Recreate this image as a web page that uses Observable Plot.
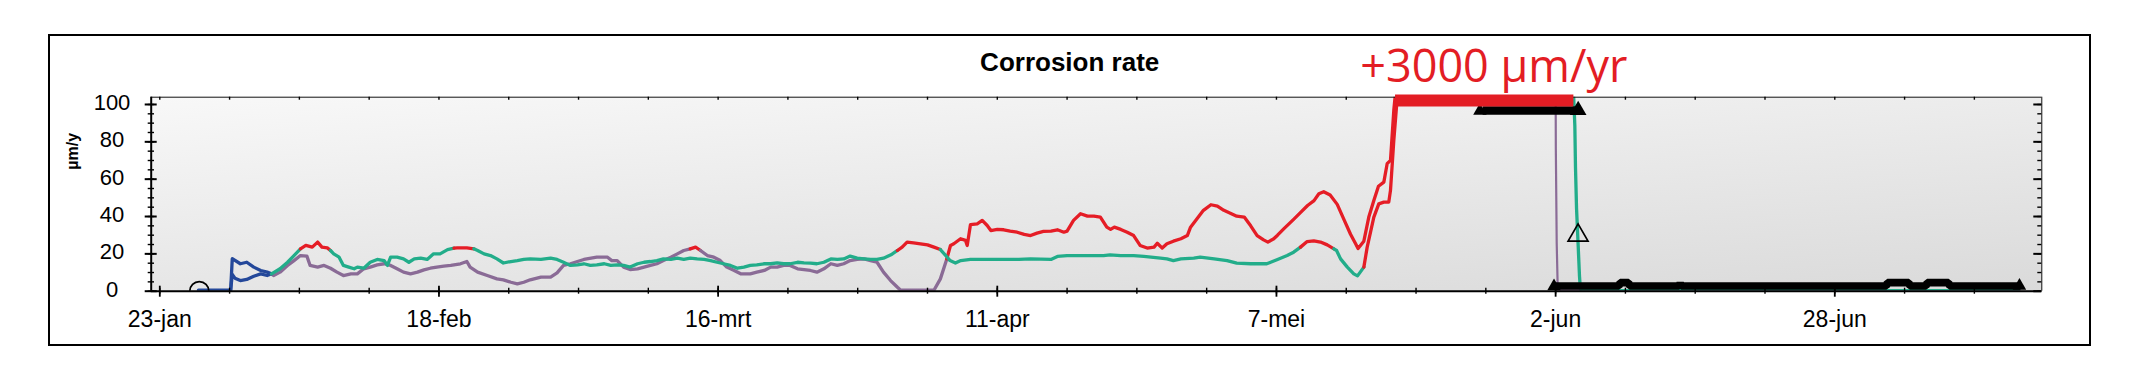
<!DOCTYPE html>
<html>
<head>
<meta charset="utf-8">
<script src="https://cdn.jsdelivr.net/npm/d3@7"></script>
<script src="https://cdn.jsdelivr.net/npm/@observablehq/plot@0.6"></script>
<style>
html, body { margin: 0; padding: 0; background: #fff; }
#wrap { position: relative; width: 2130px; height: 377px; overflow: hidden; }
#box { position: absolute; left: 48px; top: 34px; width: 2043px; height: 311.5px; box-sizing: border-box; border: 2px solid #000; }
#chart { position: absolute; left: 0; top: 0; }
</style>
</head>
<body>
<div id="wrap"><div id="box"></div><div id="chart"></div></div>
<script>
// ---------- data (x = day of year, 2019; y = corrosion rate µm/y) ----------
const YEAR = 2019;
const xTickDays   = [23, 49, 75, 101, 127, 153, 179];
const xTickLabels = ["23-jan", "18-feb", "16-mrt", "11-apr", "7-mei", "2-jun", "28-jun"];
const yTicks = [0, 20, 40, 60, 80, 100];
const title = "Corrosion rate";
const yLabel = "µm/y";

// probe A (green, red when in alarm, blue during start-up)
const aDay = [
  26.6, 29.6, 29.75, 30.5, 31.1, 31.75, 32.4, 33.0, 33.4, 34.2,
  34.9, 35.5, 36.1, 36.6, 37.2, 37.7, 38.1, 38.6, 38.9, 39.2,
  39.7, 40.1, 40.6, 41.1, 41.4, 42.0, 42.6, 43.25, 43.9, 44.2,
  44.5, 45.1, 45.7, 46.2, 46.7, 47.3, 47.9, 48.5, 49.1, 49.8,
  50.4, 50.7, 51.6, 52.25, 52.6, 53.2, 53.8, 54.4, 55.0, 55.7,
  56.3, 56.9, 57.5, 58.5, 59.4, 60.0, 60.6, 61.25, 61.9, 62.5,
  63.1, 63.7, 64.4, 65.0, 65.6, 66.2, 66.8, 67.5, 68.1, 68.7,
  69.3, 69.9, 70.6, 71.2, 71.8, 72.4, 73.05, 73.7, 74.3, 74.9,
  75.5, 76.15, 76.8, 77.4, 78.0, 78.6, 79.3, 79.9, 80.5, 81.1,
  81.7, 82.4, 83.0, 83.6, 84.2, 84.85, 85.5, 86.1, 86.7, 87.3,
  87.95, 88.6, 89.2, 89.8, 90.4, 91.1, 91.7, 92.14, 92.6, 93.2,
  93.85, 94.5, 95.1, 95.7, 96.2, 96.6, 97.1, 97.6, 98.5, 99.5,
  100.5, 101.5, 103.0, 104.1, 106.0, 106.6, 107.5, 108.4, 110.0, 110.9,
  111.5, 112.5, 113.7, 114.65, 116.2, 116.8, 117.4, 118.1, 119.3, 119.9,
  121.2, 122.4, 123.3, 124.6, 126.1, 127.1, 128.0, 128.6, 129.24, 129.86,
  130.48, 131.1, 131.73, 132.35, 132.6, 132.97, 133.6, 134.2, 134.55, 135.14,
  135.45, 136.07, 136.53, 137.0, 137.46, 137.62, 137.93, 138.18, 138.3, 154.6,
  154.69, 154.79, 154.85, 154.95, 155.1, 155.22, 155.31
];
const aVal = [
  0.6, 0.6, 17.4, 14.7, 15.5, 12.9, 11.1, 10.2, 9.3, 12.0,
  15.5, 19.1, 22.7, 24.5, 23.6, 26.3, 23.6, 23.2, 21.8, 20.0,
  18.2, 13.8, 12.9, 12.0, 12.9, 12.3, 15.5, 17.0, 16.4, 13.8,
  18.2, 18.2, 17.3, 15.5, 17.3, 17.7, 17.0, 20.0, 20.0, 22.3,
  23.1, 23.2, 23.2, 22.7, 21.8, 20.0, 19.1, 17.3, 15.1, 15.9,
  16.4, 17.0, 17.3, 17.0, 17.7, 17.0, 15.5, 13.8, 14.1, 14.7,
  13.8, 14.1, 14.7, 13.8, 14.1, 13.8, 12.9, 14.7, 15.5, 15.9,
  16.4, 17.3, 17.0, 17.7, 17.0, 17.7, 17.3, 17.0, 16.4, 15.5,
  14.7, 13.8, 12.3, 12.9, 13.8, 14.1, 14.7, 14.7, 15.2, 14.7,
  14.7, 15.5, 15.2, 15.0, 14.7, 15.5, 17.3, 17.0, 17.3, 18.8,
  17.7, 17.3, 17.0, 17.0, 17.7, 19.5, 21.8, 23.6, 26.3, 25.9,
  25.4, 24.8, 23.6, 22.3, 19.1, 16.4, 15.1, 16.4, 17.0, 17.0,
  17.0, 17.0, 17.0, 17.3, 17.0, 18.6, 19.1, 19.1, 19.1, 19.1,
  19.5, 19.1, 19.1, 18.6, 17.7, 17.3, 16.4, 17.3, 17.7, 18.2,
  17.3, 16.4, 15.0, 14.7, 14.7, 17.0, 19.1, 20.9, 23.6, 26.6,
  27.0, 26.3, 24.8, 22.7, 21.8, 17.3, 12.9, 9.3, 8.2, 12.9,
  23.6, 39.7, 46.8, 47.7, 47.7, 54.0, 80.8, 98.7, 110, 110,
  103, 88.7, 66.4, 44.1, 24.5, 8.4, 0.9
];
const aRed = [[36.5, 38.95], [50.6, 52.3], [92.1, 95.8], [129.3, 132.5], [135.3, 154.65]];

// probe B (purple, red when in alarm, blue during start-up)
const bDay = [
  29.6, 29.75, 30.0, 30.5, 31.1, 31.75, 32.4, 33.0, 33.4, 33.6,
  34.2, 34.9, 35.5, 36.1, 36.7, 37.0, 37.7, 38.3, 38.9, 39.5,
  40.1, 40.8, 41.4, 42.0, 42.6, 43.25, 43.9, 44.5, 45.1, 45.7,
  46.35, 47.0, 47.6, 48.2, 48.8, 49.45, 50.1, 51.0, 51.6, 51.9,
  52.6, 53.5, 54.4, 55.0, 55.7, 56.3, 56.9, 57.5, 58.5, 59.4,
  60.0, 60.6, 61.25, 61.9, 62.5, 63.7, 64.7, 65.1, 65.6, 66.2,
  66.8, 67.5, 68.1, 68.7, 69.3, 69.9, 70.6, 71.2, 71.8, 72.4,
  72.9, 73.36, 74.0, 74.6, 75.2, 75.8, 76.5, 77.1, 78.0, 78.6,
  79.3, 79.9, 80.5, 81.1, 81.7, 82.4, 83.0, 83.6, 84.2, 84.85,
  85.5, 86.1, 86.7, 87.3, 87.95, 88.6, 89.2, 89.8, 90.4, 91.06,
  91.7, 92.0, 95.1, 95.7, 96.3, 96.64, 96.95, 97.58, 98.04, 98.2,
  98.5, 99.13, 99.6, 100.06, 100.4, 101.0, 101.6, 102.2, 102.85, 103.5,
  104.1, 104.7, 105.3, 106.0, 106.6, 107.2, 107.5, 108.1, 108.75, 109.4,
  110.0, 110.6, 111.2, 111.55, 111.9, 112.5, 113.1, 113.7, 114.3, 114.96,
  115.6, 115.9, 116.36, 116.8, 117.4, 118.1, 118.7, 119.0, 119.6, 120.2,
  120.9, 121.5, 122.1, 122.7, 123.3, 124.0, 124.6, 125.2, 125.8, 126.2,
  126.75, 127.1, 127.7, 128.6, 129.3, 129.9, 130.5, 130.95, 131.4, 132.0,
  132.66, 133.28, 133.9, 134.36, 134.6, 135.14, 135.6, 136.07, 136.5, 137.0,
  137.31, 137.62, 137.93, 138.15, 153.0
];
const bVal = [
  0.6, 9.0, 7.0, 5.7, 6.3, 8.0, 9.3, 8.4, 9.3, 8.4,
  10.2, 13.8, 16.4, 19.1, 18.8, 13.8, 12.9, 13.8, 12.3, 10.2,
  8.4, 9.3, 9.3, 12.0, 12.9, 14.1, 14.7, 13.8, 12.0, 10.2,
  9.3, 10.2, 11.4, 12.3, 12.9, 13.4, 13.8, 14.7, 15.9, 12.9,
  10.2, 8.4, 6.6, 6.1, 4.8, 3.9, 4.8, 6.1, 7.5, 7.5,
  9.8, 13.8, 14.7, 15.9, 17.0, 18.2, 18.2, 16.4, 16.4, 12.9,
  11.6, 12.0, 12.9, 13.8, 14.7, 16.4, 18.2, 20.0, 21.8, 22.7,
  23.6, 21.8, 19.1, 18.2, 16.4, 12.9, 11.1, 9.3, 9.3, 10.2,
  11.1, 12.9, 12.9, 13.8, 13.8, 12.0, 11.6, 11.1, 10.2, 12.0,
  14.7, 13.8, 14.7, 16.4, 17.0, 17.3, 16.4, 15.5, 10.2, 5.7,
  2.1, 0.5, 0.5, 6.6, 17.3, 24.5, 25.4, 28.1, 27.2, 24.5,
  35.6, 36.1, 37.9, 35.2, 32.5, 33.1, 32.9, 32.2, 31.6, 30.4,
  29.8, 31.1, 32.0, 32.2, 32.9, 31.6, 32.2, 37.9, 41.5, 40.2,
  40.2, 39.7, 34.3, 33.1, 34.3, 33.1, 31.6, 29.8, 24.5, 23.1,
  23.6, 25.7, 23.1, 25.4, 26.8, 28.1, 29.8, 34.3, 38.8, 43.3,
  46.3, 45.6, 43.3, 41.8, 40.2, 39.7, 35.0, 29.8, 27.5, 26.3,
  28.1, 30.0, 33.5, 38.5, 42.5, 45.9, 48.5, 52.2, 53.3, 51.5,
  46.5, 38.5, 30.5, 25.5, 22.9, 26.8, 39.7, 48.6, 56.2, 58.4,
  68.3, 70.1, 96.9, 110, 110
];
const bRed = [[72.6, 73.4], [96.5, 153.0]];
const startUpEnd = 33.4;

// after the drop (2 jun) both probes read ~0
const bTailDay = [153.0, 153.02, 153.1, 153.2, 196.2];
const bTailVal = [110, 76, 26, 0.5, 0.5];
const aTailDay = [155.31, 196.2];
const aTailVal = [0.8, 0.8];

// black triangle-marker rows
const lowBandDay = [152.9, 158.9, 159.0, 159.8, 159.9, 164.5, 164.6, 164.7, 183.8, 183.9, 185.9, 186.0, 187.5, 187.6, 189.6, 189.7, 196.3];
const lowBandVal = [2.8, 2.8, 4.6, 4.6, 2.8, 2.8, 4.4, 2.8, 2.8, 4.6, 4.6, 2.8, 2.8, 4.6, 4.6, 2.8, 2.8];
const topBandDay = [146.2, 154.8];
const topBandVal = [96.8, 96.8];
const bandEndDay = [145.95, 152.85, 196.2];
const bandEndVal = [96.6, 2.6, 2.9];
const bigTriangle = {day: 155.1, v: 96.9};
const openTriangle = {day: 155.09, v: 29.9};
const startCircle = {day: 26.68, v: 0};

// annotation
const noteLabel = "+3000 µm/yr";
const noteDay = 134.8, noteVal = 100;
const noteBar = {from: 138.09, to: 154.7, v: 102.1};

// ---------- helpers ----------
const C = {green: "#22ad8a", purple: "#8a6b96", red: "#e51d26", blue: "#24489a", note: "#e31d24"};
const toDate = d => new Date(Date.UTC(YEAR, 0, 1) + (d - 1) * 864e5);
const X0 = 22.2, X1 = 198.28, Y0 = 0, Y1 = 103.9;
const inRanges = (d, rs) => rs.some(([a, b]) => d >= a && d <= b);
const colorA = d => d <= startUpEnd ? C.blue : inRanges(d, aRed) ? C.red : C.green;
const colorB = d => d <= startUpEnd ? C.blue : inRanges(d, bRed) ? C.red : C.purple;

function runs(days, vals, colorOf, key) {
  const rows = [];
  let run = 0, prev = null;
  for (let i = 0; i < days.length; i++) {
    const c = colorOf(days[i]);
    if (i > 0 && c !== prev) {
      run++;
      rows.push({d: days[i - 1], v: vals[i - 1], run: key + run, c});
    }
    rows.push({d: days[i], v: vals[i], run: key + run, c});
    prev = c;
  }
  return rows;
}
const pts = (days, vals) => days.map((d, i) => ({d, v: vals[i]}));

const rowsA = runs(aDay, aVal, colorA, "A");
const rowsB = runs(bDay, bVal, colorB, "B");
const minorDays = d3.range(0, 27).map(k => 23 + 6.5 * k);
const yMinor = d3.range(0, 101, 5);
const xd = r => toDate(r.d);

const chart = Plot.plot({
  width: 2130, height: 377,
  marginLeft: 150.7, marginRight: 88.7, marginTop: 96.7, marginBottom: 86.3,
  x: {type: "utc", domain: [toDate(X0), toDate(X1)], axis: null},
  y: {domain: [Y0, Y1], axis: null},
  color: {type: "identity"},
  style: {fontFamily: "'Liberation Sans', Arial, sans-serif", fontSize: "23px", background: "transparent", color: "#000", overflow: "visible", maxWidth: "none"},
  marks: [
    Plot.frame({fill: "url(#plotBg)", stroke: "none"}),
    // series
    Plot.line(rowsB, {x: xd, y: "v", z: "run", stroke: "c", strokeWidth: 3.3, clip: true}),
    Plot.line(rowsA, {x: xd, y: "v", z: "run", stroke: "c", strokeWidth: 3.3, clip: true}),
    Plot.line(pts(bTailDay, bTailVal), {x: xd, y: "v", stroke: C.purple, strokeWidth: 2.2, clip: true}),
    Plot.line(pts(aTailDay, aTailVal), {x: xd, y: "v", stroke: C.green, strokeWidth: 1.5, clip: true}),
    // marker rows
    Plot.line(pts(lowBandDay, lowBandVal), {x: xd, y: "v", stroke: "#000", strokeWidth: 7.6, strokeLinecap: "butt", strokeLinejoin: "miter", clip: true}),
    Plot.line(pts(topBandDay, topBandVal), {x: xd, y: "v", stroke: "#000", strokeWidth: 8.6, strokeLinecap: "butt", clip: true}),
    Plot.dot(pts(bandEndDay, bandEndVal), {x: xd, y: "v", symbol: "triangle", r: 5, fill: "#000", stroke: "none", clip: true}),
    Plot.dot([bigTriangle], {x: r => toDate(r.day), y: "v", symbol: "triangle", r: 6.2, fill: "#000", stroke: "none"}),
    Plot.dot([openTriangle], {x: r => toDate(r.day), y: "v", symbol: "triangle", r: 7.4, fill: "none", stroke: "#000", strokeWidth: 1.7}),
    Plot.dot([startCircle], {x: r => toDate(r.day), y: "v", r: 9.5, fill: "none", stroke: "#000", strokeWidth: 1.8, clip: true}),
    // axes lines
    Plot.ruleY([Y1], {stroke: "#111", strokeWidth: 1}),
    Plot.ruleX([X1], {x: d => toDate(d), stroke: "#111", strokeWidth: 1}),
    Plot.ruleX([X0], {x: d => toDate(d), stroke: "#000", strokeWidth: 2}),
    Plot.ruleY([0], {stroke: "#000", strokeWidth: 2}),
    // x ticks
    Plot.ruleX(minorDays, {x: d => toDate(d), y1: 0, y2: 0, insetTop: -3, insetBottom: -3, stroke: "#000", strokeWidth: 1.4}),
    Plot.ruleX(xTickDays, {x: d => toDate(d), y1: 0, y2: 0, insetTop: -5, insetBottom: -6, stroke: "#000", strokeWidth: 1.8}),
    Plot.ruleX(minorDays, {x: d => toDate(d), y1: Y1, y2: Y1, insetTop: 0, insetBottom: -3, stroke: "#000", strokeWidth: 1.4}),
    // y ticks left
    Plot.ruleY(yMinor, {y: d => d, x1: () => toDate(X0), x2: () => toDate(X0), insetLeft: -3, insetRight: -3.3, stroke: "#000", strokeWidth: 1.4}),
    Plot.ruleY(yTicks, {y: d => d, x1: () => toDate(X0), x2: () => toDate(X0), insetLeft: -6, insetRight: -6, stroke: "#000", strokeWidth: 2}),
    // y ticks right (inward)
    Plot.ruleY(yMinor, {y: d => d, x1: () => toDate(X1), x2: () => toDate(X1), insetLeft: -4, insetRight: 0, stroke: "#000", strokeWidth: 1.4}),
    Plot.ruleY(yTicks, {y: d => d, x1: () => toDate(X1), x2: () => toDate(X1), insetLeft: -8, insetRight: 0, stroke: "#000", strokeWidth: 2}),
    // tick labels
    Plot.text(xTickDays, {x: d => toDate(d), y: () => 0, text: (d, i) => xTickLabels[i], dy: 35.3, lineAnchor: "bottom", fontSize: 23, fill: "#000"}),
    Plot.text(yTicks, {x: () => toDate(X0), y: d => d, text: d => String(d), dx: -39.2, dy: -1.5, textAnchor: "middle", fontSize: 22, fill: "#000"}),
    Plot.text([yLabel], {text: d => d, frameAnchor: "left", dx: -78.2, dy: -24.5, rotate: -90, fontWeight: "bold", fontSize: 16, fill: "#000"}),
    Plot.text([title], {text: d => d, frameAnchor: "top", dx: -26.8, dy: -26, lineAnchor: "bottom", fontWeight: "bold", fontSize: 26, fill: "#000"}),
    // annotation
    Plot.ruleY([noteBar], {y: "v", x1: r => toDate(r.from), x2: r => toDate(r.to), stroke: C.note, strokeWidth: 12}),
    Plot.text([noteLabel], {text: d => d, x: () => toDate(noteDay), y: () => noteVal, dy: -22.3, textAnchor: "start", lineAnchor: "bottom", fontSize: 45, fontFamily: "'Open Sans', sans-serif", fill: C.note})
  ]
});

d3.select(chart).insert("defs", ":first-child").html(
  '<linearGradient id="plotBg" x1="0" y1="0" x2="0.769" y2="1.154">' +
  '<stop offset="0" stop-color="#f8f8f8"/><stop offset="1" stop-color="#dadada"/></linearGradient>'
);
document.getElementById("chart").appendChild(chart);
</script>
</body>
</html>
